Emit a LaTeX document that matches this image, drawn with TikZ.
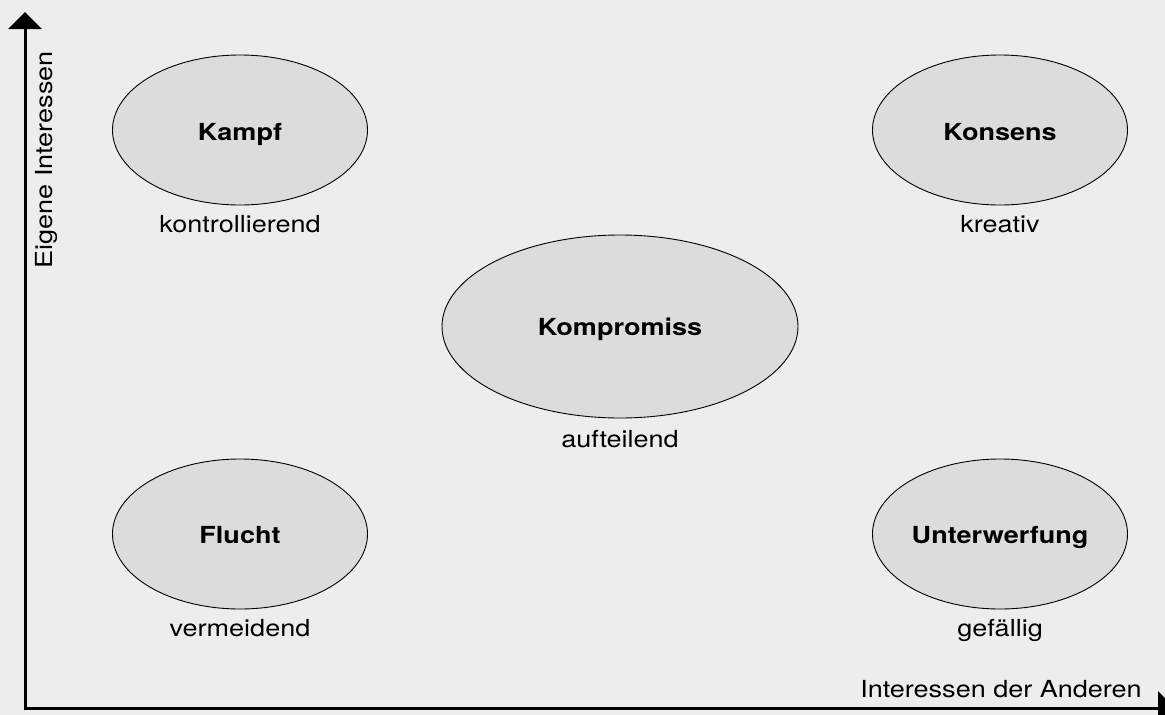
\documentclass[tikz,border=0pt]{standalone}
\usepackage{fontspec}
\setmainfont{TeX Gyre Heros}[FakeStretch=1.15]
\usetikzlibrary{shapes.geometric,arrows.meta}
\definecolor{bgc}{HTML}{EDEDED}
\definecolor{ellc}{HTML}{DCDCDC}
\tikzset{
  oval/.style={ellipse, draw=black, line width=0.9pt, fill=ellc, inner sep=0pt},
  small/.style={oval, minimum width=255pt, minimum height=150pt},
  big/.style={oval, minimum width=356pt, minimum height=183pt},
  title/.style={font=\fontsize{23.5}{26}\selectfont\bfseries, anchor=base},
  sub/.style={font=\fontsize{23.5}{26}\selectfont, anchor=base},
  axis/.style={line width=3pt, -{Triangle[width=33pt,length=17pt]}}
}
\begin{document}
\begin{tikzpicture}[x=1pt,y=-1pt]
\fill[bgc] (0,0) rectangle (1165,715);
\clip (0,0) rectangle (1165,715);
\coordinate (origin) at (25,708);
\coordinate (ytip) at (25,12);
\coordinate (xtip) at (1175,708);
\draw[axis] ([yshift=-1.5pt]origin) -- (ytip);
\draw[axis] ([xshift=-1.5pt]origin) -- (xtip);
\node[small] (kampf) at (240,130) {};
\node[small] (konsens) at (1000,130) {};
\node[big] (kompromiss) at (620,326.5) {};
\node[small] (flucht) at (240,534) {};
\node[small] (unterwerfung) at (1000,534) {};
\node[title] (t1) at (240,140) {Kampf};
\node[title] (t2) at (1000,140) {Konsens};
\node[title] (t3) at (620,335) {Kompromiss};
\node[title] (t4) at (240,543) {Flucht};
\node[title] (t5) at (1000,543) {Unterwerfung};
\node[sub] (s1) at (240,232) {kontrollierend};
\node[sub] (s2) at (1000,232) {kreativ};
\node[sub] (s3) at (620,447) {aufteilend};
\node[sub] (s4) at (240,636) {vermeidend};
\node[sub] (s5) at (1000,636) {gefällig};
\node[sub] (xl) at (1001,697) {Interessen der Anderen};
\node[sub, rotate=90] (yl) at (52,160) {Eigene Interessen};
\end{tikzpicture}
\end{document}
